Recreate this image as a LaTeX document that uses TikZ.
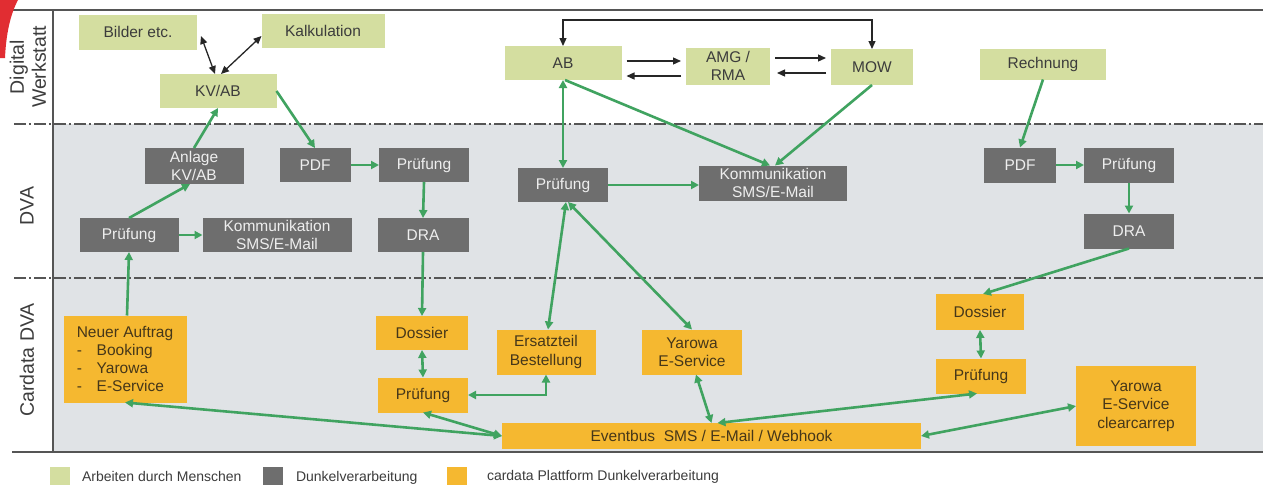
\documentclass[tikz,border=0pt]{standalone}
\usepackage{fontspec}
\setmainfont{Liberation Sans}
\usetikzlibrary{arrows.meta,calc}
\definecolor{boxgreen}{RGB}{212,222,160}
\definecolor{boxgray}{RGB}{110,110,110}
\definecolor{boxorange}{RGB}{245,184,48}
\definecolor{arrgreen}{RGB}{64,163,96}
\definecolor{lanegray}{RGB}{224,227,230}
\definecolor{linegray}{RGB}{85,85,85}
\definecolor{txtdark}{RGB}{60,60,60}
\definecolor{txtlight}{RGB}{238,238,238}
\definecolor{txtbrown}{RGB}{70,55,25}
\definecolor{scanred}{RGB}{225,45,50}
\begin{document}
\begin{tikzpicture}[x=1pt,y=-1pt,
  every node/.style={inner sep=0pt,outer sep=0pt},
  nodefont/.style={font=\fontsize{15.5}{18.3}\selectfont},
  gbox/.style={nodefont,fill=boxgreen,text=txtdark,align=center},
  dbox/.style={nodefont,fill=boxgray,text=txtlight,align=center},
  obox/.style={nodefont,fill=boxorange,text=txtbrown,align=center},
  lanelabel/.style={rotate=90,font=\fontsize{19.5}{22}\selectfont,text=txtdark,align=center},
  legsq/.style={minimum width=20,minimum height=18},
  legtxt/.style={anchor=base west,font=\fontsize{14}{16}\selectfont,text=txtdark},
  garr/.style={draw=arrgreen,line width=2.6pt,-{Triangle[length=8pt,width=8pt]}},
  gdbl/.style={draw=arrgreen,line width=2.6pt,{Triangle[length=8pt,width=8pt]}-{Triangle[length=8pt,width=8pt]}},
  barr/.style={draw=black!85,line width=1.3pt,-{Triangle[length=8pt,width=7pt]}},
  bdbl/.style={draw=black!85,line width=1.3pt,{Triangle[length=8pt,width=7pt]}-{Triangle[length=8pt,width=7pt]}},
  sepline/.style={draw=linegray,line width=1.5pt,dash pattern=on 12pt off 3pt on 2pt off 3pt}
]
\useasboundingbox (0,0) rectangle (1263,485);
\fill[white] (0,0) rectangle (1263,485);
% lanes background
\fill[lanegray] (53,124) rectangle (1263,452);
\draw[sepline] (14,124) -- (1263,124);
\draw[sepline] (14,278) -- (1263,278);
\draw[linegray,line width=2pt] (12,10) -- (1263,10);
\draw[linegray,line width=2.2pt] (12,452) -- (1263,452);
\draw[linegray,line width=1.2pt] (53,10) -- (53,452);
% scan artifact
\fill[scanred] (0,0) -- (18,0) .. controls (10,15) and (6,35) .. (5,58) -- (0,58) -- cycle;
% lane labels
\node[lanelabel] (lw) at (28,67) {Digital\\Werkstatt};
\node[lanelabel] (ld) at (27,206) {DVA};
\node[lanelabel] (lc) at (27,360) {Cardata DVA};
% Digital Werkstatt
\node[gbox,minimum width=118,minimum height=35] (bilder) at (138,32) {Bilder etc.};
\node[gbox,minimum width=123,minimum height=34] (kalk) at (323,31) {Kalkulation};
\node[gbox,minimum width=117,minimum height=34] (kvab) at (218,91) {KV/AB};
\node[gbox,minimum width=117,minimum height=34] (ab) at (563,63) {AB};
\node[gbox,minimum width=84,minimum height=37] (amg) at (728,66) {AMG /\\RMA};
\node[gbox,minimum width=82,minimum height=36] (mow) at (872,67) {MOW};
\node[gbox,minimum width=126,minimum height=31] (rech) at (1043,64) {Rechnung};
% DVA
\node[dbox,minimum width=99,minimum height=36] (anl) at (194,166) {Anlage\\KV/AB};
\node[dbox,minimum width=71,minimum height=34] (pdfa) at (315,165) {PDF};
\node[dbox,minimum width=90,minimum height=34] (pra) at (424,165) {Prüfung};
\node[dbox,minimum width=99,minimum height=34] (prl) at (129,235) {Prüfung};
\node[dbox,minimum width=149,minimum height=34] (koma) at (277,235) {Kommunikation\\SMS/E-Mail};
\node[dbox,minimum width=91,minimum height=34] (draa) at (423,235) {DRA};
\node[dbox,minimum width=90,minimum height=34] (prm) at (563,185) {Prüfung};
\node[dbox,minimum width=148,minimum height=35] (komb) at (773,183) {Kommunikation\\SMS/E-Mail};
\node[dbox,minimum width=72,minimum height=35] (pdfb) at (1020,165) {PDF};
\node[dbox,minimum width=90,minimum height=35] (prb) at (1129,165) {Prüfung};
\node[dbox,minimum width=90,minimum height=35] (drab) at (1129,231) {DRA};
% Cardata DVA
\node[obox,minimum width=123,minimum height=87,align=left] (neu) at (125,359) {Neuer Auftrag\\\makebox[20pt][l]{-}Booking\\\makebox[20pt][l]{-}Yarowa\\\makebox[20pt][l]{-}E-Service};
\node[obox,minimum width=92,minimum height=34] (dosa) at (422,333) {Dossier};
\node[obox,minimum width=90,minimum height=35] (proa) at (423,395) {Prüfung};
\node[obox,minimum width=99,minimum height=45] (ers) at (546,352) {Ersatzteil\\Bestellung};
\node[obox,minimum width=100,minimum height=45] (yar) at (692,352) {Yarowa\\E-Service};
\node[obox,minimum width=88,minimum height=36] (dosb) at (980,312) {Dossier};
\node[obox,minimum width=90,minimum height=35] (prob) at (981,376) {Prüfung};
\node[obox,minimum width=120,minimum height=80] (yc) at (1136,406) {Yarowa\\E-Service\\clearcarrep};
\node[obox,minimum width=419,minimum height=26] (ev) at (711.5,436) {Eventbus\ \ SMS / E-Mail / Webhook};
% black connectors
\draw[bdbl] ([shift={(4,4)}]bilder.east) -- ([xshift=-3]kvab.north);
\draw[bdbl] ([xshift=3]kvab.north) -- ([shift={(0,5)}]kalk.west);
\draw[barr] ([shift={(5,-2)}]ab.east) -- ([shift={(-5,-5)}]amg.west);
\draw[barr] ([shift={(-5,10)}]amg.west) -- ([shift={(5,13)}]ab.east);
\draw[barr] ([shift={(5,-8)}]amg.east) -- ([shift={(-5,-9)}]mow.west);
\draw[barr] ([shift={(-5,6)}]mow.west) -- ([shift={(7,7)}]amg.east);
\coordinate (looptop) at (700,20);
\draw[bdbl] (ab.north) -- (ab.north |- looptop) -| (mow.north);
% green connectors
\draw[garr] (prl.north) -- ([xshift=-4]anl.south);
\draw[garr] (anl.north) -- (kvab.south);
\draw[garr] (kvab.east) -- (pdfa.north);
\draw[garr] (pdfa.east) -- (pra.west);
\draw[garr] (pra.south) -- (draa.north);
\draw[garr] (draa.south) -- (dosa.north);
\draw[garr] (prl.east) -- (koma.west);
\draw[garr] ([xshift=2]neu.north) -- (prl.south);
\draw[gdbl] (dosa.south) -- (proa.north);
\draw[gdbl] (ers.south) |- (proa.east);
\draw[gdbl] (ab.south) -- (prm.north);
\draw[garr] ([xshift=2]ab.south) -- ([xshift=-3]komb.north);
\draw[garr] (mow.south) -- ([xshift=2]komb.north);
\draw[garr] (prm.east) -- (prm.east -| komb.west);
\draw[gdbl] ([xshift=2]ers.north) -- ([xshift=3]prm.south);
\draw[gdbl] (yar.north) -- ([xshift=5]prm.south);
\draw[gdbl] ([xshift=4]yar.south) -- (ev.north);
\draw[gdbl] ([xshift=6]ev.north) -- ([xshift=-4]prob.south);
\draw[gdbl] (ev.east) -- (yc.west);
\draw[gdbl] (ev.west) -- (neu.south);
\draw[gdbl] (ev.west) -- (proa.south);
\draw[garr] (drab.south) -- ([xshift=3]dosb.north);
\draw[garr] (rech.south) -- (pdfb.north);
\draw[garr] (pdfb.east) -- (prb.west);
\draw[garr] (prb.south) -- (drab.north);
\draw[gdbl] (dosb.south) -- (prob.north);
% legend
\node[legsq,fill=boxgreen] (lg1) at (60,476) {};
\node[legtxt] (lt1) at (82,481) {Arbeiten durch Menschen};
\node[legsq,fill=boxgray] (lg2) at (273,476) {};
\node[legtxt] (lt2) at (296,481) {Dunkelverarbeitung};
\node[legsq,fill=boxorange] (lg3) at (457,476) {};
\node[legtxt] (lt3) at (487,480) {cardata Plattform Dunkelverarbeitung};
\end{tikzpicture}
\end{document}
